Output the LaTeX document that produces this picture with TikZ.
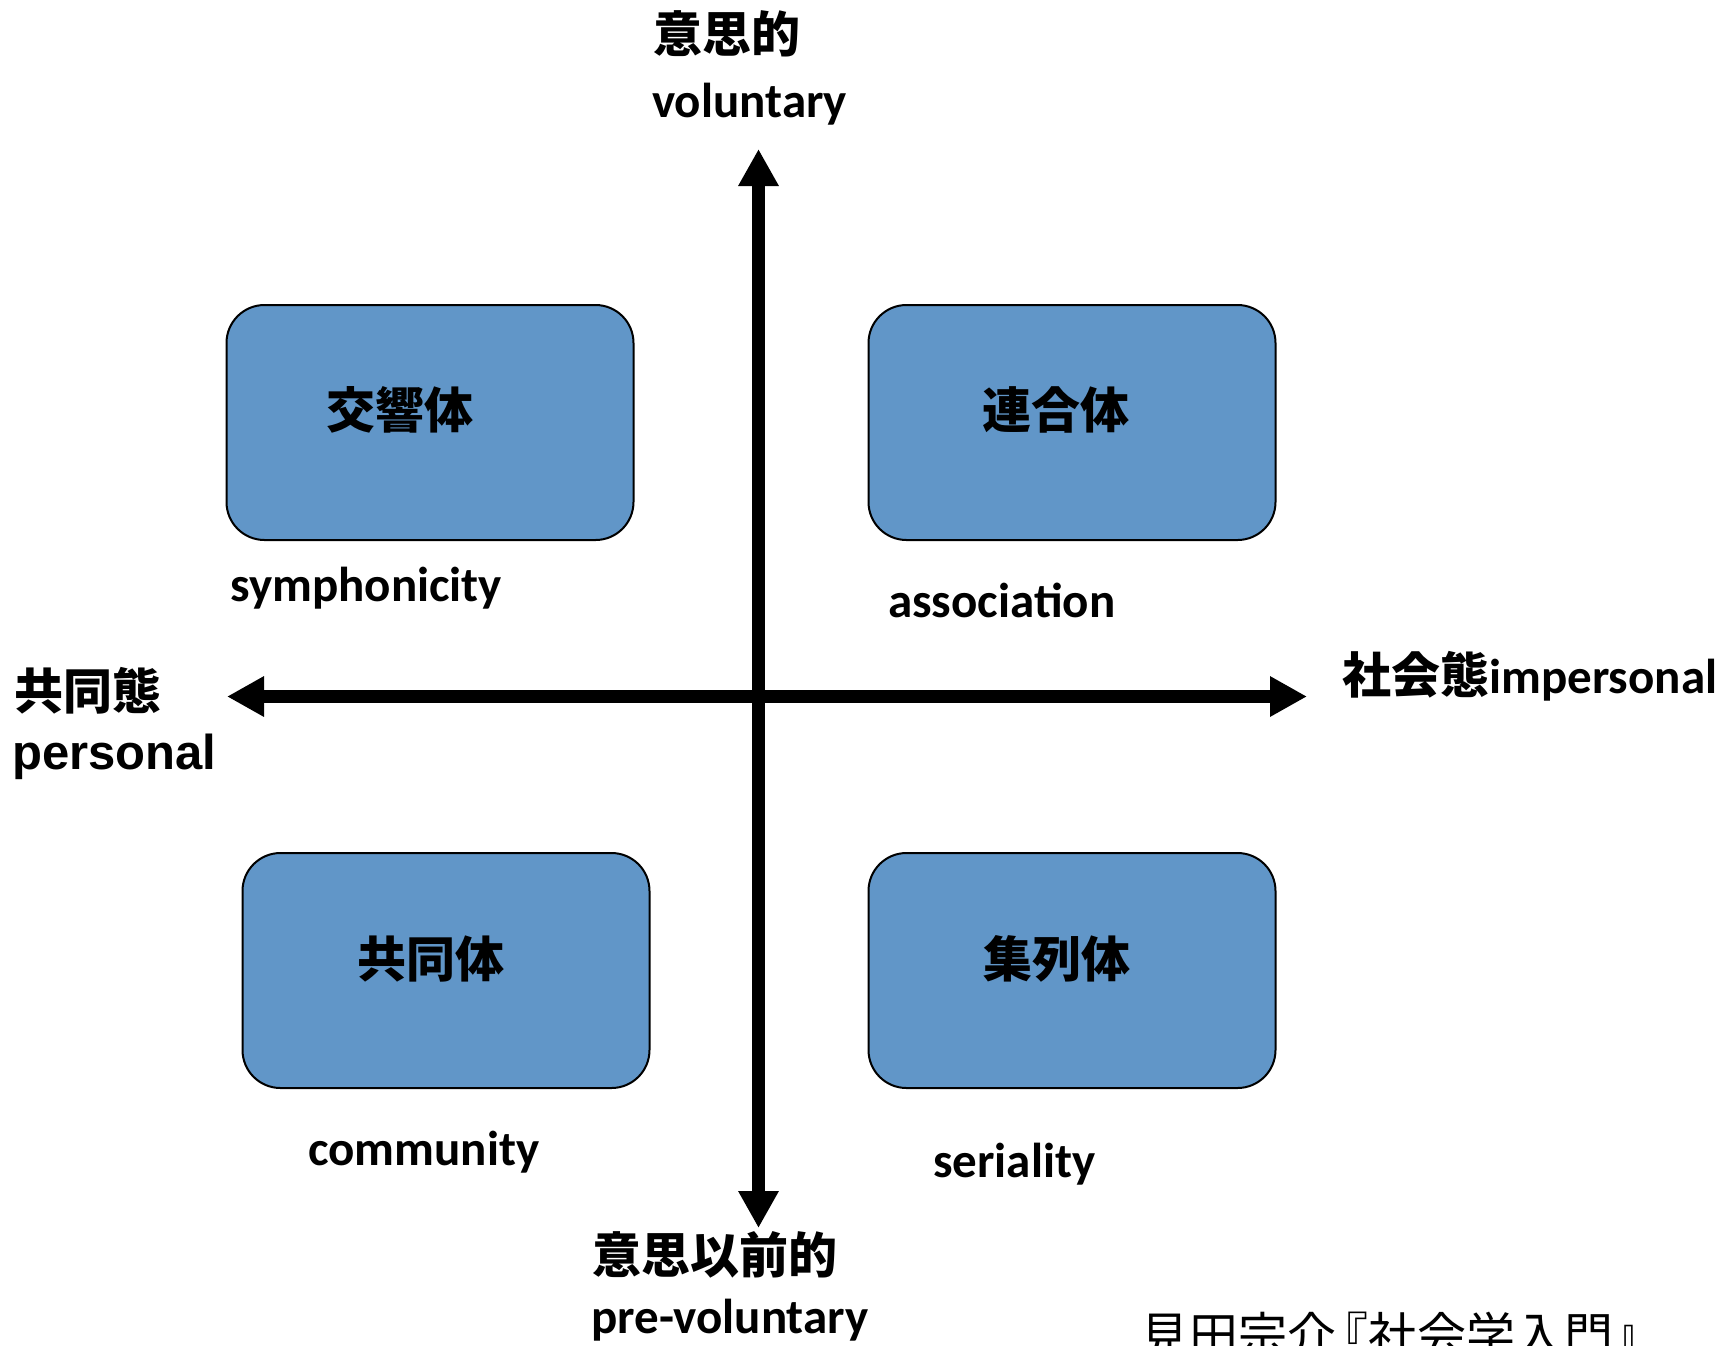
\documentclass[tikz,border=0pt]{standalone}
\usepackage{fontspec}
\setmainfont{Carlito}
\newfontfamily\cjk{Noto Sans CJK JP}
\newfontfamily\arialf{Liberation Sans}
\usetikzlibrary{arrows.meta}
\definecolor{boxblue}{RGB}{97,150,200}
\tikzset{
  qbox/.style={draw=black, line width=2pt, fill=boxblue, rounded corners=38pt,
    minimum width=407pt, minimum height=235pt, inner sep=0pt},
  boxtxt/.style={inner sep=0pt, font=\fontsize{49}{58}\selectfont\cjk\bfseries},
  lat/.style={inner sep=0pt, anchor=west, font=\fontsize{49}{58}\selectfont\bfseries},
  cjkl/.style={inner sep=0pt, anchor=west, font=\fontsize{49}{58}\selectfont\cjk\bfseries},
  axis/.style={line width=12.5pt, {Triangle[length=37pt,width=38pt]}-{Triangle[length=37pt,width=38pt]}}
}
\begin{document}
\begin{tikzpicture}[x=1pt,y=-1pt]
\useasboundingbox (0,0) rectangle (1736,1345);
\clip (0,0) rectangle (1736,1345);
% boxes
\node[qbox] (b1) at (430,422.5) {};
\node[qbox] (b2) at (1072,422.5) {};
\node[qbox] (b3) at (446,970.5) {};
\node[qbox] (b4) at (1072,970.5) {};
\node[boxtxt] (t1) at (400,410) {交響体};
\node[boxtxt] (t2) at (1056,410) {連合体};
\node[boxtxt] (t3) at (431,959) {共同体};
\node[boxtxt] (t4) at (1057,959) {集列体};
% english labels
\node[lat] (e1) at (230,588) {symphonicity};
\node[lat] (e2) at (888,600) {association};
\node[lat] (e3) at (308,1152) {community};
\node[lat] (e4) at (933,1164) {seriality};
% axes
\coordinate (L) at (227,696.5);
\coordinate (R) at (1307,696.5);
\coordinate (T) at (758.5,149);
\coordinate (B) at (758.5,1228);
\draw[axis] (L) -- (R);
\draw[axis] (B) -- (T);
% axis labels
\node[cjkl] (a1) at (653,34) {意思的};
\node[lat] (a2) at (652,104) {voluntary};
\node[cjkl] (a3) at (592,1255) {意思以前的};
\node[lat] (a4) at (591,1320) {pre-voluntary};
\node[cjkl] (a5) at (14,691) {共同態};
\node[inner sep=0pt, anchor=west, font=\fontsize{49}{58}\selectfont\arialf\bfseries] (a6) at (12,757) {personal};
\node[lat] (a7) at (1342,676) {{\cjk 社会態}impersonal};
% citation
\node[inner sep=0pt, anchor=base west, font=\fontsize{49}{58}\selectfont\cjk] (c1) at (1140,1353) {見田宗介\kern-0.35em『社会学入門』};
\end{tikzpicture}
\end{document}
